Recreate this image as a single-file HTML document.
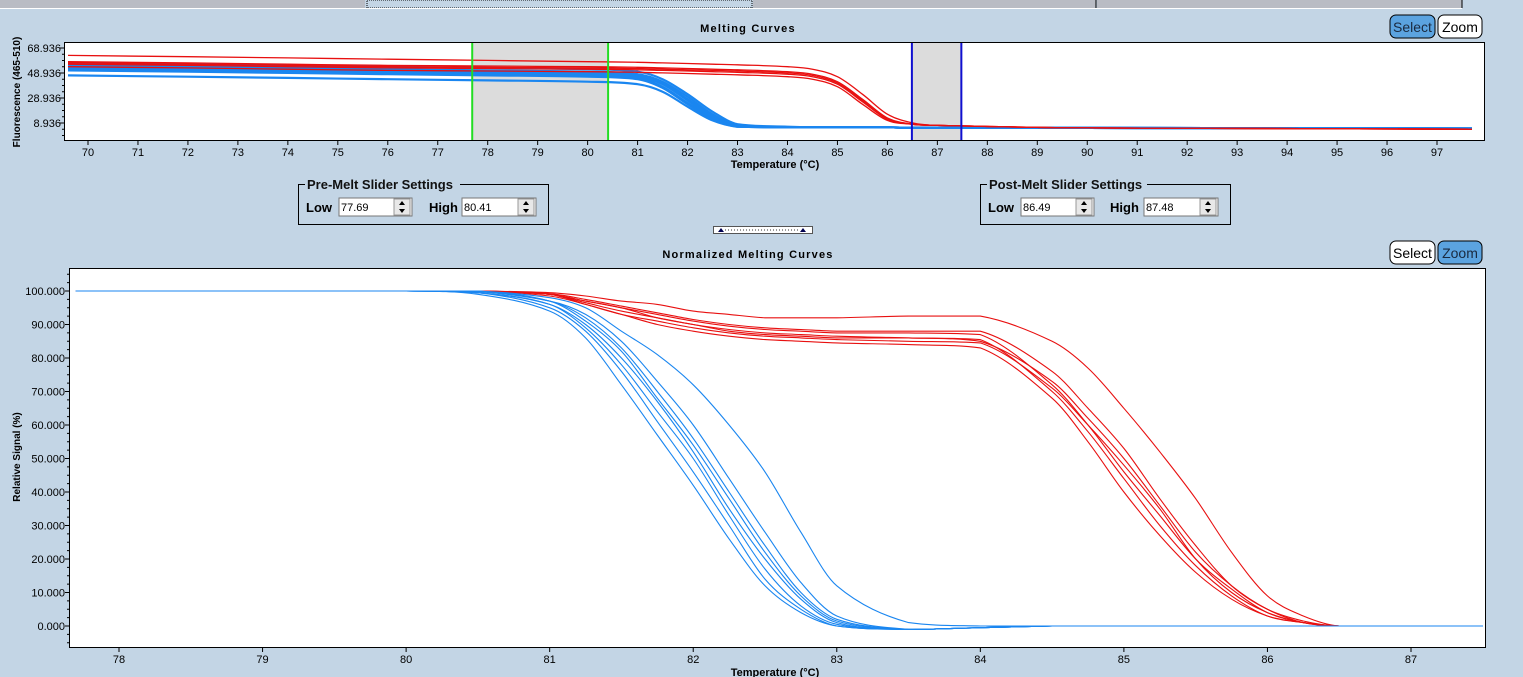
<!DOCTYPE html>
<html><head><meta charset="utf-8"><style>
html,body{margin:0;padding:0;background:#c3d5e5;width:1523px;height:677px;overflow:hidden}
svg{display:block;font-family:"Liberation Sans",Arial,sans-serif}
</style></head><body>
<svg id="s" width="1523" height="677">
<rect x="0" y="0" width="1523" height="677" fill="#c3d5e5"/>
<g>
<rect x="0" y="0" width="365" height="8" fill="#b9bcc4"/>
<rect x="367" y="0" width="385" height="8" fill="#c3d5e5" stroke="#000" stroke-dasharray="1,1"/>
<rect x="753" y="0" width="343" height="8" fill="#b9bcc4"/>
<rect x="1097" y="0" width="365" height="8" fill="#b9bcc4"/>
<line x1="0" y1="8.5" x2="1462" y2="8.5" stroke="#fff"/>
<line x1="1096" y1="0" x2="1096" y2="8" stroke="#000"/><line x1="1462" y1="0" x2="1462" y2="8" stroke="#000"/>
</g>
<text x="748" y="32" text-anchor="middle" font-size="11" font-weight="bold" letter-spacing="1.2">Melting Curves</text>
<text x="748" y="258" text-anchor="middle" font-size="11" font-weight="bold" letter-spacing="1.2">Normalized Melting Curves</text>
<g><rect x="1390" y="15" width="45" height="23" rx="6" fill="#5ba3e0" stroke="#000"/><text x="1412.5" y="32" text-anchor="middle" font-size="14" fill="#1a2a40">Select</text></g>
<g><rect x="1438" y="15" width="44" height="23" rx="6" fill="#fff" stroke="#000"/><text x="1460" y="32" text-anchor="middle" font-size="14">Zoom</text></g>
<g><rect x="1390" y="241" width="45" height="23" rx="6" fill="#fff" stroke="#000"/><text x="1412.5" y="258" text-anchor="middle" font-size="14">Select</text></g>
<g><rect x="1438" y="241" width="44" height="23" rx="6" fill="#5ba3e0" stroke="#000"/><text x="1460" y="258" text-anchor="middle" font-size="14" fill="#1a2a40">Zoom</text></g>
<g>
<rect x="298.5" y="184.5" width="250" height="40" fill="none" stroke="#000"/>
<rect x="305" y="177" width="155" height="14" fill="#c3d5e5"/>
<text x="307" y="189" font-size="13" font-weight="bold" fill="#111">Pre-Melt Slider Settings</text>
<text x="306" y="212" font-size="13" font-weight="bold">Low</text>
<rect x="339" y="198" width="73" height="18" fill="#fff" stroke="#777"/>
<text x="341" y="211" font-size="11">77.69</text>
<g><rect x="394" y="199" width="16" height="16" fill="#e8e8e8" stroke="#999"/><path d="M399,205 L402,201 L405,205Z M399,209 L402,213 L405,209Z" fill="#000"/></g>
<text x="429" y="212" font-size="13" font-weight="bold">High</text>
<rect x="462" y="198" width="74" height="18" fill="#fff" stroke="#777"/>
<text x="464" y="211" font-size="11">80.41</text>
<g><rect x="518" y="199" width="16" height="16" fill="#e8e8e8" stroke="#999"/><path d="M523,205 L526,201 L529,205Z M523,209 L526,213 L529,209Z" fill="#000"/></g>
</g>
<g>
<rect x="980.5" y="184.5" width="250" height="40" fill="none" stroke="#000"/>
<rect x="987" y="177" width="160" height="14" fill="#c3d5e5"/>
<text x="989" y="189" font-size="13" font-weight="bold" fill="#111">Post-Melt Slider Settings</text>
<text x="988" y="212" font-size="13" font-weight="bold">Low</text>
<rect x="1021" y="198" width="73" height="18" fill="#fff" stroke="#777"/>
<text x="1023" y="211" font-size="11">86.49</text>
<g><rect x="1076" y="199" width="16" height="16" fill="#e8e8e8" stroke="#999"/><path d="M1081,205 L1084,201 L1087,205Z M1081,209 L1084,213 L1087,209Z" fill="#000"/></g>
<text x="1110" y="212" font-size="13" font-weight="bold">High</text>
<rect x="1144" y="198" width="74" height="18" fill="#fff" stroke="#777"/>
<text x="1146" y="211" font-size="11">87.48</text>
<g><rect x="1200" y="199" width="16" height="16" fill="#e8e8e8" stroke="#999"/><path d="M1205,205 L1208,201 L1211,205Z M1205,209 L1208,213 L1211,209Z" fill="#000"/></g>
</g>
<g><rect x="713.5" y="226.5" width="99" height="7" fill="#fff" stroke="#555"/><line x1="725" y1="230" x2="800" y2="230" stroke="#333" stroke-dasharray="1,2"/><path d="M718,232 L721,228 L724,232Z M800,232 L803,228 L806,232Z" fill="#000050"/></g>
<g id="top"></g>
<g id="bot"></g>
</svg>
<script>
// ---------- Top chart data ----------
const topTemps=[69.6,72,74,76,78,80,81,81.5,82,82.5,83,84,84.5,85,85.5,86,86.5,87,90,97.7];
const topBlue=[
[57,56,55,54,53,52,50,44,32,18,8,6,5.5,5.5,5.5,5.5,5,5,5,4.5],
[55,54,53,52,51,50,48,42,30,16,7,5.5,5.5,5.5,5.5,5.5,5,5,5,4.5],
[54,53,52,51,50,49,47,41,28,15,7,5.5,5.5,5.5,5.5,5.5,5,5,5,4.5],
[53,52,51,50,49,48,46,40,27,14,6.5,5.5,5.5,5.5,5.5,5.5,5,5,5,4.5],
[52,51,50,49,48,47,45,38,25,13,6,5.5,5.5,5.5,5.5,5.5,5,5,5,4.5],
[51,50,49,48,47,46,44,37,24,12,6,5.5,5.5,5.5,5.5,5.5,5,5,5,4.5],
[47,46,45,44,43,42,40,34,22,11,6,5.5,5.5,5.5,5.5,5.5,5,5,5,4.5]];
const topRed=[
[63,62,61,60,59,58,57.5,57,56.5,56,55.5,54,52,46,32,16,9,7,5,4],
[58,57,56,55,54.5,54,53.5,53,52.5,52,51.5,50,48,42,28,13,8,7,5,4],
[57,56,55,54,53.5,53,52.5,52,51.5,51,50.5,49,47,41,27,12,8,7,5,4],
[56,55,54,53,52.5,52,51.5,51,50.5,50,49.5,48,46,40,26,12,8,7,5,4],
[54,53,52,51,50.5,50,49.5,49,48.5,48,47.5,46,44,38,24,11,8,7,5,4]];
const topYTicks=[68.936,48.936,28.936,8.936];
const topXTicks=[70,71,72,73,74,75,76,77,78,79,80,81,82,83,84,85,86,87,88,89,90,91,92,93,94,95,96,97];
const preMelt=[77.69,80.41];
const postMelt=[86.49,87.48];
// ---------- Bottom chart data ----------
const botTemps=[77.7,80,80.5,81,81.25,81.5,81.75,82,82.25,82.5,82.75,83,83.5,84,84.5,84.75,85,85.25,85.5,85.75,86,86.25,86.5,87.5];
const botBlue=[
[100,100,99.8,97,93,85,73,60,44,28,13,3,-1,-0.5,0,0,0,0,0,0,0,0,0,0],
[100,100,99.5,96,90,80,67,52,35,20,8,1,-1,-0.5,0,0,0,0,0,0,0,0,0,0],
[100,100,99.5,95,88,76,61,46,30,14,5,0,-1,-0.5,0,0,0,0,0,0,0,0,0,0],
[100,100,99,94,86,72,57,42,26,12,4,0,-1,-0.5,0,0,0,0,0,0,0,0,0,0],
[100,100,100,97,92,83,70,56,40,24,10,2,-1,-0.5,0,0,0,0,0,0,0,0,0,0],
[100,100,100,98,95,88,81,72,60,46,28,12,1,0,0,0,0,0,0,0,0,0,0,0],
[100,100,99.5,96,89,78,64,50,33,17,6,0.5,-1,-0.5,0,0,0,0,0,0,0,0,0,0],
[100,100,100,97,91,82,68,54,38,22,9,1.5,-1,-0.5,0,0,0,0,0,0,0,0,0,0]];
const botRed=[
[100,100,100,99.5,98.5,97,96,94,93,92,92,92,92.5,92.5,85,77,65,52,38,22,9,3,0,0],
[100,100,100,99,97,95,93,91,89.5,88.5,88,87.5,87.5,87,72,60,46,33,20,11,4,1,0,0],
[100,100,100,99,96.5,94,92,90,88.5,87.5,87,86.5,86,85.5,70,58,44,30,18,9,3,1,0,0],
[100,100,100,98.5,96,93,90,88,86.5,85.5,85,84.5,84,83,68,55,40,27,16,8,3,1,0,0],
[100,100,100,99,97,95,92,90,88,87,86.5,86,86,85,73,62,50,36,22,12,5,1,0,0],
[100,100,100,99,96,93,91,89,87.5,86.5,86,85.5,85,84.5,71,60,48,35,20,10,4,1,0,0],
[100,100,100,99.2,97.5,95.5,93.5,91.5,90,89,88.5,88,88,88,76,65,53,38,24,12,5,1.5,0,0]];
const botYTicks=[100,90,80,70,60,50,40,30,20,10,0];
const botXTicks=[78,79,80,81,82,83,84,85,86,87];

const NS='http://www.w3.org/2000/svg';
function mk(p,tag,attrs){const e=document.createElementNS(NS,tag);for(const k in attrs)e.setAttribute(k,attrs[k]);p.appendChild(e);return e;}
function smooth(pts){
  let d='M'+pts[0][0].toFixed(1)+','+pts[0][1].toFixed(1);
  for(let i=0;i<pts.length-1;i++){
    const p0=pts[Math.max(0,i-1)],p1=pts[i],p2=pts[i+1],p3=pts[Math.min(pts.length-1,i+2)];
    const s1=(p2[1]-p0[1])/(p2[0]-p0[0]||1),s2=(p3[1]-p1[1])/(p3[0]-p1[0]||1);
    const h=(p2[0]-p1[0])/3;
    let c1y=p1[1]+s1*h,c2y=p2[1]-s2*h;
    const lo=Math.min(p1[1],p2[1]),hi=Math.max(p1[1],p2[1]);
    c1y=Math.min(hi,Math.max(lo,c1y));c2y=Math.min(hi,Math.max(lo,c2y));
    d+=' C'+(p1[0]+h).toFixed(1)+','+c1y.toFixed(1)+' '+(p2[0]-h).toFixed(1)+','+c2y.toFixed(1)+' '+p2[0].toFixed(1)+','+p2[1].toFixed(1);
  }
  return d;
}
// ---------- Top chart ----------
(function(){
  const g=document.getElementById('top');
  const L=64,T=42,R=1485,B=141;
  const xS=t=>88+(t-70)*(1437-88)/27;
  const yS=v=>48+(68.936-v)*(75/60);
  const bg=mk(g,'rect',{x:L,y:T,width:R-L,height:B-T,fill:'#fff'});
  
  const r1=mk(g,'rect',{x:xS(preMelt[0]),y:T,width:xS(preMelt[1])-xS(preMelt[0]),height:B-T,fill:'#dcdcdc'});
  
  const r2=mk(g,'rect',{x:xS(postMelt[0]),y:T,width:xS(postMelt[1])-xS(postMelt[0]),height:B-T,fill:'#dcdcdc'});
  
  topBlue.forEach(s=>{const p=mk(g,'path',{d:smooth(s.map((v,i)=>[xS(topTemps[i]),yS(v)])),fill:'none',stroke:'#1a86f0','stroke-width':2.2});
    });
  topRed.forEach(s=>{const p=mk(g,'path',{d:smooth(s.map((v,i)=>[xS(topTemps[i]),yS(v)])),fill:'none',stroke:'#e81010','stroke-width':1.3});
    });
  [[preMelt[0],'#22dd22','pre-melt-low-slider'],[preMelt[1],'#22dd22','pre-melt-high-slider'],[postMelt[0],'#1010d0','post-melt-low-slider'],[postMelt[1],'#1010d0','post-melt-high-slider']].forEach(a=>{
    const l=mk(g,'line',{x1:xS(a[0]),x2:xS(a[0]),y1:T,y2:B,stroke:a[1],'stroke-width':2});
    });
  mk(g,'rect',{x:L+0.5,y:T+0.5,width:R-L-1,height:B-T-1,fill:'none',stroke:'#000'});
  topYTicks.forEach(v=>{const y=yS(v);mk(g,'line',{x1:L-4,x2:L,y1:y,y2:y,stroke:'#000'});
    const t=mk(g,'text',{x:L-3,y:y+4,'text-anchor':'end','font-size':11});t.textContent=v.toFixed(3);
    });
  for(let v=68.936;v>-5;v-=5){const y=yS(v);mk(g,'line',{x1:L-2,x2:L,y1:y,y2:y,stroke:'#000'});}
  topXTicks.forEach(v=>{const x=xS(v);mk(g,'line',{x1:x,x2:x,y1:B,y2:B+4,stroke:'#000'});
    const t=mk(g,'text',{x:x,y:B+15,'text-anchor':'middle','font-size':11});t.textContent=v;
    });
  const xl=mk(g,'text',{x:775,y:168,'text-anchor':'middle','font-size':11,'font-weight':'bold'});xl.textContent='Temperature (°C)';
  
  const yl=mk(g,'text',{x:0,y:0,'text-anchor':'middle','font-size':10,'font-weight':'bold',transform:'translate(20,92) rotate(-90)'});yl.textContent='Fluorescence (465-510)';
  
})();
// ---------- Bottom chart ----------
(function(){
  const g=document.getElementById('bot');
  const L=69,T=268,R=1486,B=648;
  const xS=t=>119+(t-78)*(1411-119)/9;
  const yS=v=>626-v*3.35;
  const bg=mk(g,'rect',{x:L,y:T,width:R-L,height:B-T,fill:'#fff'});
  
  botRed.forEach(s=>{const p=mk(g,'path',{d:smooth(s.map((v,i)=>[xS(botTemps[i]),yS(v)])),fill:'none',stroke:'#e81010','stroke-width':1.1});
    });
  botBlue.forEach(s=>{const p=mk(g,'path',{d:smooth(s.map((v,i)=>[xS(botTemps[i]),yS(v)])),fill:'none',stroke:'#1a86f0','stroke-width':1.1});
    });
  mk(g,'rect',{x:L+0.5,y:T+0.5,width:R-L-1,height:B-T-1,fill:'none',stroke:'#000'});
  botYTicks.forEach(v=>{const y=yS(v);mk(g,'line',{x1:L-4,x2:L,y1:y,y2:y,stroke:'#000'});
    const t=mk(g,'text',{x:L-4,y:y+4,'text-anchor':'end','font-size':11});t.textContent=v.toFixed(3);
    });
  for(let v=-5;v<=105;v+=2.5){const y=yS(v);if(y>T&&y<B)mk(g,'line',{x1:L-2,x2:L,y1:y,y2:y,stroke:'#000'});}
  botXTicks.forEach(v=>{const x=xS(v);mk(g,'line',{x1:x,x2:x,y1:B,y2:B+4,stroke:'#000'});
    const t=mk(g,'text',{x:x,y:B+15,'text-anchor':'middle','font-size':11});t.textContent=v;
    });
  const xl=mk(g,'text',{x:775,y:676,'text-anchor':'middle','font-size':11,'font-weight':'bold'});xl.textContent='Temperature (°C)';
  
  const yl=mk(g,'text',{x:0,y:0,'text-anchor':'middle','font-size':10,'font-weight':'bold',transform:'translate(20,457) rotate(-90)'});yl.textContent='Relative Signal (%)';
  
})();
</script>
</body></html>
